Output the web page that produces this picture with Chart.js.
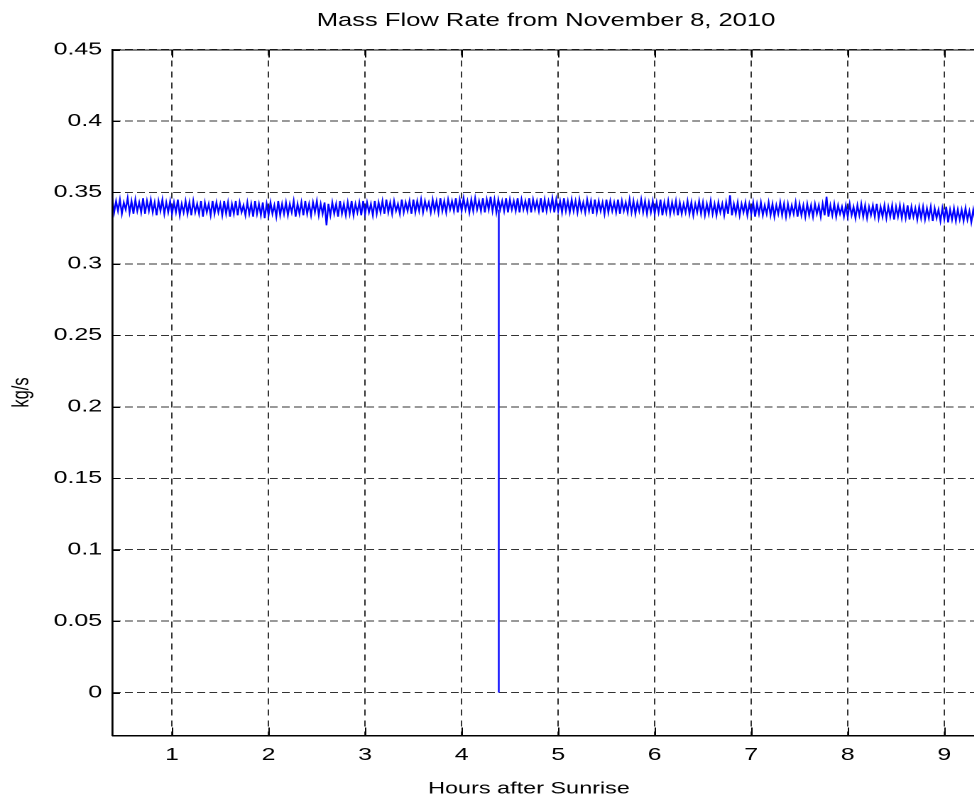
<!DOCTYPE html>
<html>
<head>
<meta charset="utf-8">
<script src="https://cdn.jsdelivr.net/npm/chart.js@4.4.1/dist/chart.umd.min.js"></script>
<style>
  html, body { margin: 0; padding: 0; background: #fff; overflow: hidden; width: 974px; height: 803px; }
  #wrap { width: 700px; height: 803px; transform: scaleX(1.42); transform-origin: 0 0; }
  canvas { display: block; }
</style>
</head>
<body>
<div id="wrap"><canvas id="c" width="700" height="803"></canvas></div>
<script>
// ---- data ----
const chartTitle = "Mass Flow Rate from November 8, 2010";
const xAxisTitle = "Hours after Sunrise";
const yAxisTitle = "kg/s";
const sampleStartHour = 0.38;
const sampleStepHour = 0.02;
const massFlow = [
  0.346,0.336,0.344,0.337,0.345,0.335,0.343,0.338,0.346,0.336,
  0.344,0.335,0.345,0.337,0.343,0.336,0.346,0.335,0.344,0.337,
  0.345,0.336,0.343,0.334,0.344,0.337,0.345,0.335,0.343,0.336,
  0.344,0.335,0.343,0.336,0.345,0.334,0.342,0.336,0.344,0.335,
  0.343,0.334,0.344,0.336,0.342,0.335,0.344,0.333,0.343,0.336,
  0.342,0.334,0.344,0.335,0.343,0.336,0.342,0.334,0.344,0.335,
  0.343,0.333,0.342,0.335,0.344,0.334,0.343,0.336,0.341,0.334,
  0.343,0.335,0.342,0.333,0.344,0.335,0.342,0.334,0.343,0.332,
  0.342,0.334,0.343,0.335,0.341,0.333,0.344,0.334,0.342,0.335,
  0.343,0.334,0.342,0.336,0.344,0.333,0.342,0.335,0.343,0.334,
  0.344,0.335,0.342,0.334,0.343,0.336,0.344,0.334,0.342,0.335,
  0.343,0.327,0.342,0.334,0.343,0.335,0.342,0.333,0.344,0.335,
  0.342,0.334,0.343,0.335,0.344,0.334,0.342,0.336,0.343,0.334,
  0.344,0.335,0.343,0.336,0.342,0.334,0.344,0.335,0.343,0.336,
  0.344,0.335,0.345,0.336,0.343,0.335,0.344,0.337,0.342,0.335,
  0.345,0.336,0.343,0.337,0.344,0.335,0.345,0.336,0.344,0.337,
  0.345,0.336,0.344,0.338,0.343,0.336,0.345,0.337,0.344,0.336,
  0.346,0.337,0.344,0.336,0.345,0.338,0.344,0.337,0.346,0.336,
  0.345,0.337,0.346,0.338,0.344,0.336,0.345,0.337,0.346,0.338,
  0.344,0.337,0.346,0.336,0.345,0.338,0.347,0.337,0.345,0.336,
  0.345,0.338,0.344,0.337,0.346,0.336,0.345,0.338,0.344,0.337,
  0.346,0.336,0.345,0.338,0.344,0.337,0.346,0.336,0.345,0.338,
  0.344,0.337,0.346,0.336,0.345,0.337,0.344,0.338,0.346,0.336,
  0.345,0.337,0.344,0.336,0.346,0.337,0.344,0.336,0.345,0.337,
  0.344,0.336,0.345,0.337,0.343,0.336,0.345,0.337,0.344,0.335,
  0.345,0.336,0.344,0.337,0.343,0.335,0.345,0.336,0.344,0.337,
  0.343,0.336,0.345,0.335,0.344,0.337,0.343,0.336,0.345,0.336,
  0.344,0.335,0.343,0.337,0.345,0.336,0.344,0.335,0.343,0.336,
  0.344,0.335,0.343,0.336,0.345,0.334,0.343,0.336,0.344,0.335,
  0.343,0.336,0.344,0.334,0.343,0.335,0.342,0.336,0.344,0.335,
  0.343,0.334,0.342,0.336,0.344,0.335,0.343,0.334,0.342,0.335,
  0.344,0.335,0.342,0.334,0.343,0.336,0.342,0.334,0.343,0.335,
  0.348,0.334,0.342,0.335,0.343,0.334,0.342,0.336,0.343,0.334,
  0.342,0.335,0.343,0.333,0.342,0.335,0.343,0.334,0.341,0.335,
  0.343,0.334,0.342,0.333,0.341,0.335,0.343,0.334,0.342,0.333,
  0.342,0.334,0.341,0.335,0.343,0.333,0.342,0.334,0.341,0.333,
  0.342,0.334,0.341,0.333,0.342,0.335,0.341,0.333,0.342,0.334,
  0.347,0.333,0.341,0.334,0.342,0.333,0.341,0.335,0.340,0.333,
  0.341,0.333,0.342,0.334,0.340,0.332,0.341,0.334,0.342,0.333,
  0.341,0.332,0.340,0.334,0.341,0.333,0.342,0.332,0.340,0.333,
  0.341,0.332,0.340,0.333,0.341,0.331,0.340,0.333,0.341,0.332,
  0.340,0.332,0.341,0.331,0.340,0.333,0.339,0.331,0.340,0.332,
  0.340,0.331,0.339,0.332,0.340,0.330,0.339,0.332,0.338,0.330,
  0.339,0.331,0.340,0.329,0.338,0.331,0.339,0.330,0.338,0.331,
  0.338,0.330,0.339,0.331,0.337,0.329,0.338,0.331,0.337,0.330
];
const dropoutHours = [4.385, 4.385];
const dropoutValues = [0.338, 0.0];
const xTickValues = [1, 2, 3, 4, 5, 6, 7, 8, 9];
const xTickLabels = ["1", "2", "3", "4", "5", "6", "7", "8", "9"];
const yTickValues = [0, 0.05, 0.1, 0.15, 0.2, 0.25, 0.3, 0.35, 0.4, 0.45];
const yTickLabels = ["0", "0.05", "0.1", "0.15", "0.2", "0.25", "0.3", "0.35", "0.4", "0.45"];
const xMin = 0.378, xMax = 9.37;
const yMin = -0.03, yMax = 0.45;

// ---- chart ----
const FONT = "'Liberation Sans', Arial, Helvetica, sans-serif";
const SX = 1.42; // horizontal stretch of the original figure
const mainPoints = massFlow.map((v, i) => ({ x: sampleStartHour + i * sampleStepHour, y: v }));
const dropPoints = dropoutHours.map((h, i) => ({ x: h, y: dropoutValues[i] }));

const matlabFrame = {
  id: 'matlabFrame',
  afterDatasetsDraw(chart) {
    const { ctx, chartArea: a, scales: { x, y } } = chart;
    ctx.save();
    ctx.strokeStyle = '#000';
    ctx.lineWidth = 1;
    ctx.setLineDash([]);
    ctx.beginPath();
    ctx.moveTo(a.left, a.top + 0.5); ctx.lineTo(a.right + 20, a.top + 0.5);
    ctx.moveTo(a.left, a.bottom + 0.5); ctx.lineTo(a.right + 20, a.bottom + 0.5);
    ctx.moveTo(a.left + 0.5, a.top); ctx.lineTo(a.left + 0.5, a.bottom + 1);
    xTickValues.forEach(v => {
      const px = Math.round(x.getPixelForValue(v)) + 0.5;
      ctx.moveTo(px, a.bottom); ctx.lineTo(px, a.bottom - 8);
      ctx.moveTo(px, a.top); ctx.lineTo(px, a.top + 8);
    });
    yTickValues.forEach(v => {
      const py = Math.round(y.getPixelForValue(v)) + 0.5;
      ctx.moveTo(a.left, py); ctx.lineTo(a.left + 5.6, py);
    });
    ctx.stroke();
    ctx.fillStyle = '#000';
    ctx.font = "16.5px " + FONT;
    ctx.textAlign = 'center';
    ctx.textBaseline = 'middle';
    ctx.fillText(xAxisTitle, 529 / SX, 789);
    ctx.restore();
  }
};

new Chart(document.getElementById('c'), {
  type: 'line',
  data: {
    datasets: [
      { data: mainPoints, borderColor: '#0000ff', borderWidth: 1.2, pointRadius: 0, tension: 0, fill: false },
      { data: dropPoints, borderColor: '#0000ff', borderWidth: 1.2, pointRadius: 0, tension: 0, fill: false }
    ]
  },
  options: {
    responsive: false,
    animation: false,
    devicePixelRatio: 2,
    layout: { padding: { left: 0, right: 9.86, top: 0, bottom: 0 } },
    plugins: {
      legend: { display: false },
      tooltip: { enabled: false },
      title: {
        display: true,
        text: chartTitle,
        fullSize: false,
        color: '#000',
        font: { family: FONT, size: 18, weight: 'normal' },
        padding: { top: 10, bottom: 17.9 }
      }
    },
    scales: {
      x: {
        type: 'linear',
        min: xMin, max: xMax,
        afterBuildTicks: s => { s.ticks = xTickValues.map(v => ({ value: v })); },
        afterFit: s => { s.height = 67.5; },
        grid: { color: 'rgba(0,0,0,0.8)', lineWidth: 1, drawTicks: false },
        border: { display: true, color: '#000', width: 1, dash: [6, 5] },
        ticks: {
          autoSkip: false, maxRotation: 0, padding: 9, color: '#000',
          font: { family: FONT, size: 17.5 },
          callback: (v, i) => xTickLabels[i]
        },
        title: { display: false, text: xAxisTitle }
      },
      y: {
        type: 'linear',
        min: yMin, max: yMax,
        afterBuildTicks: s => { s.ticks = yTickValues.map(v => ({ value: v })); },
        afterFit: s => { s.width = 78.87; },
        grid: { color: 'rgba(0,0,0,0.8)', lineWidth: 1, drawTicks: false },
        border: { display: true, color: '#000', width: 1, dash: [5.5, 3] },
        ticks: {
          autoSkip: false, padding: 7, color: '#000',
          font: { family: FONT, size: 17.5 },
          callback: (v, i) => yTickLabels[i]
        },
        title: {
          display: true, text: yAxisTitle, color: '#000',
          font: { family: FONT, size: 16.5 },
          padding: { top: 5.5, bottom: 0 }
        }
      }
    }
  },
  plugins: [matlabFrame]
});
</script>
</body>
</html>
